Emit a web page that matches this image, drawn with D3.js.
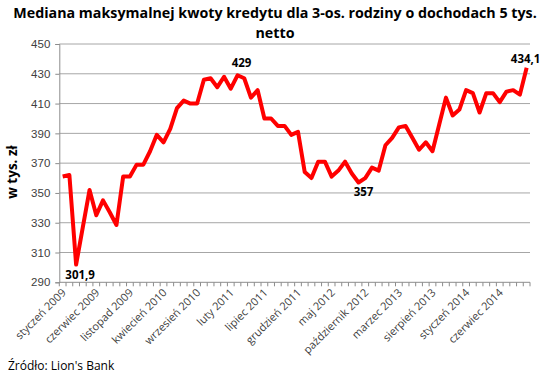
<!DOCTYPE html>
<html>
<head>
<meta charset="utf-8">
<script src="https://cdn.jsdelivr.net/npm/d3@7"></script>
<style>
  body { margin: 0; background: #fff; }
  svg { display: block; font-family: "Open Sans", "Noto Sans", sans-serif; }
</style>
</head>
<body>
<svg id="chart" width="550" height="374"></svg>
<script>
// Polish month names and years shown on the category axis
const monthNames = ["styczeń", "luty", "marzec", "kwiecień", "maj", "czerwiec",
  "lipiec", "sierpień", "wrzesień", "październik", "listopad", "grudzień"];
const startYear = 2009;

// median max credit amount, thousands PLN, Jan 2009 .. Oct 2014
const values = [
  361, 362, 301.9, 327, 352, 335, 345, 337, 328.5, 361, 361, 369,
  369, 378, 389, 384, 393, 407, 412, 410, 410, 426, 427, 421,
  428, 420, 429, 427, 414, 419, 400, 400, 395, 395, 389, 391,
  364, 360, 371, 371, 361, 365, 371, 363, 357, 360, 367, 365,
  382, 387, 394, 395, 387, 379, 384, 378, 396, 414, 402, 406,
  419, 417, 404, 417, 417, 411, 418, 419, 416, 434.1
];

const yTicks = [290, 310, 330, 350, 370, 390, 410, 430, 450];

// point labels: index -> text, offset from the point
const callouts = [
  {i: 2, text: "301,9", dx: 4, dy: 14},
  {i: 26, text: "429", dx: 4, dy: -8},
  {i: 44, text: "357", dx: 5, dy: 13.5},
  {i: 69, text: "434,1", dx: -1, dy: -5}
];

const categories = values.map((v, i) =>
  monthNames[i % 12] + " " + (startYear + Math.floor(i / 12)));

const svg = d3.select("#chart");
const plot = {l: 59.3, r: 530, t: 44, b: 282.3};

const x = d3.scaleBand()
  .domain(d3.range(values.length))
  .range([plot.l, plot.r]);
const y = d3.scaleLinear()
  .domain([290, 450])
  .range([plot.b, plot.t]);

// title, sized to the reference width
const title = svg.append("g")
  .attr("font-weight", "bold")
  .attr("fill", "#000")
  .attr("text-anchor", "middle");
const t1 = title.append("text")
  .attr("x", 275).attr("y", 18)
  .text("Mediana maksymalnej kwoty kredytu dla 3-os. rodziny o dochodach 5 tys.");
let fs = 15;
t1.attr("font-size", fs);
fs = fs * 524 / t1.node().getComputedTextLength();
t1.attr("font-size", fs);
title.append("text")
  .attr("x", 275).attr("y", 38)
  .attr("font-size", fs)
  .text("netto");

// gridlines
svg.append("g")
  .selectAll("line")
  .data(yTicks.slice(1))
  .join("line")
  .attr("x1", plot.l).attr("x2", plot.r)
  .attr("y1", d => y(d)).attr("y2", d => y(d))
  .attr("stroke", "#a6a6a6")
  .attr("stroke-width", 1);

// y axis
const yAxis = svg.append("g")
  .attr("transform", `translate(${plot.l},0)`)
  .call(d3.axisLeft(y).tickValues(yTicks).tickSize(4).tickPadding(5));
yAxis.select(".domain").attr("stroke", "#8c8c8c");
yAxis.selectAll(".tick line").attr("stroke", "#8c8c8c");
yAxis.selectAll(".tick text")
  .attr("font-size", 11.5)
  .attr("fill", "#404040");

// x axis: tick marks between categories
const xg = svg.append("g");
xg.append("line")
  .attr("x1", plot.l).attr("x2", plot.r)
  .attr("y1", plot.b).attr("y2", plot.b)
  .attr("stroke", "#8c8c8c");
xg.selectAll(".tk")
  .data(d3.range(values.length + 1))
  .join("line")
  .attr("class", "tk")
  .attr("x1", d => plot.l + d * x.bandwidth())
  .attr("x2", d => plot.l + d * x.bandwidth())
  .attr("y1", plot.b).attr("y2", plot.b + 4)
  .attr("stroke", "#8c8c8c");

const cx = i => x(i) + x.bandwidth() / 2;

xg.selectAll(".lbl")
  .data(d3.range(0, values.length, 5))
  .join("text")
  .attr("class", "lbl")
  .attr("font-size", 11)
  .attr("fill", "#404040")
  .attr("text-anchor", "end")
  .attr("transform", i => `translate(${cx(i) + 4},${plot.b + 11}) rotate(-45)`)
  .text(i => categories[i]);

// y axis title
svg.append("text")
  .attr("transform", "translate(17,172) rotate(-90)")
  .attr("text-anchor", "middle")
  .attr("font-weight", "bold")
  .attr("font-size", 13.5)
  .text("w tys. zł");

// the series line
const line = d3.line()
  .x((d, i) => cx(i))
  .y(d => y(d));
svg.append("path")
  .datum(values)
  .attr("d", line)
  .attr("fill", "none")
  .attr("stroke", "#ff0000")
  .attr("stroke-width", 4)
  .attr("stroke-linejoin", "round");

// callouts
svg.append("g")
  .selectAll("text")
  .data(callouts)
  .join("text")
  .attr("x", d => cx(d.i) + d.dx)
  .attr("y", d => y(values[d.i]) + d.dy)
  .attr("text-anchor", "middle")
  .attr("font-weight", "bold")
  .attr("font-size", 11.5)
  .text(d => d.text);

// source note
svg.append("text")
  .attr("x", 8).attr("y", 370)
  .attr("font-size", 12)
  .attr("fill", "#000")
  .text("Źródło: Lion's Bank");
</script>
</body>
</html>
